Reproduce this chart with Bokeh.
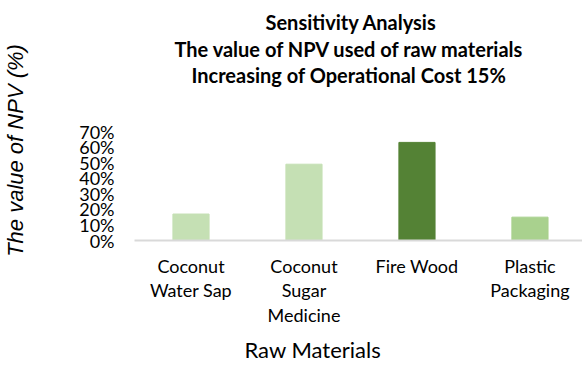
from bokeh.plotting import figure
from bokeh.models import Range1d, FixedTicker, NumeralTickFormatter, Title, Label, ColumnDataSource
from bokeh.embed import file_html
from bokeh.resources import INLINE

categories = ["Coconut\nWater Sap", "Coconut\nSugar\nMedicine", "Fire Wood", "Plastic\nPackaging"]
npv_values = [0.17, 0.49, 0.63, 0.15]
bar_colors = ["#C5E0B4", "#C5E0B4", "#548235", "#A9D18E"]
y_ticks = [0.0, 0.1, 0.2, 0.3, 0.4, 0.5, 0.6, 0.7]
title_lines = ["Sensitivity Analysis", "The value of NPV used of raw materials", "Increasing of Operational Cost 15%"]
x_title = "Raw Materials"
y_title = "The value of NPV (%)"

FONT = "Lato"
xs = [i + 0.5 for i in range(len(categories))]
src = ColumnDataSource(dict(x=xs, top=npv_values, color=bar_colors))

TOP = 60
p = figure(width=582, height=366, output_backend="svg", toolbar_location=None,
           x_range=Range1d(0, 3.965), y_range=Range1d(0, 0.70 * (240 - TOP) / 109),
           min_border_left=134, min_border_right=0, min_border_top=TOP, min_border_bottom=126)
p.title.visible = False
p.outline_line_color = None
p.grid.visible = False
p.background_fill_color = "white"
p.border_fill_color = "white"

p.vbar(x="x", top="top", width=0.32, bottom=0, color="color", source=src)

xa = p.xaxis[0]
xa.ticker = FixedTicker(ticks=xs)
xa.major_label_overrides = {x: c for x, c in zip(xs, categories)}
xa.major_tick_line_color = None
xa.minor_tick_line_color = None
xa.axis_line_color = "#D9D9D9"
xa.axis_line_width = 2
xa.major_label_text_font = FONT
xa.major_label_text_font_size = "18px"
xa.major_label_text_color = "#000000"
xa.major_label_text_line_height = 1.13
xa.major_label_standoff = 8

ya = p.yaxis[0]
ya.ticker = FixedTicker(ticks=y_ticks)
ya.formatter = NumeralTickFormatter(format="0%")
ya.axis_line_color = None
ya.major_tick_line_color = None
ya.minor_tick_line_color = None
ya.major_label_text_font = FONT
ya.major_label_text_font_size = "18px"
ya.major_label_text_color = "#000000"
ya.major_label_standoff = 14
ya.axis_label = y_title
ya.axis_label_text_font = "Liberation Sans"
ya.axis_label_text_font_style = "italic"
ya.axis_label_text_font_size = "22px"
ya.axis_label_text_color = "#000000"
ya.axis_label_standoff = 48

# first two title lines above the frame (closest first), third line inside the frame top
title_offsets = [131, 40, 57]
p.add_layout(Title(text=title_lines[1], align="left", offset=title_offsets[1], standoff=0,
                   text_font=FONT, text_font_style="bold", text_font_size="20px",
                   text_color="#000000"), "above")
p.add_layout(Title(text=title_lines[0], align="left", offset=title_offsets[0], standoff=1,
                   text_font=FONT, text_font_style="bold", text_font_size="20px",
                   text_color="#000000"), "above")
p.add_layout(Label(x=title_offsets[2], y=240 - 74, x_units="screen", y_units="screen",
                   text=title_lines[2], text_font=FONT, text_font_style="bold",
                   text_font_size="20px", text_align="left", text_baseline="middle",
                   text_color="#000000"))

p.add_layout(Title(text=x_title, align="left", offset=110, standoff=8,
                   text_font=FONT, text_font_style="normal", text_font_size="22px",
                   text_color="#000000"), "below")

open("out.html", "w").write(file_html(p, INLINE))
